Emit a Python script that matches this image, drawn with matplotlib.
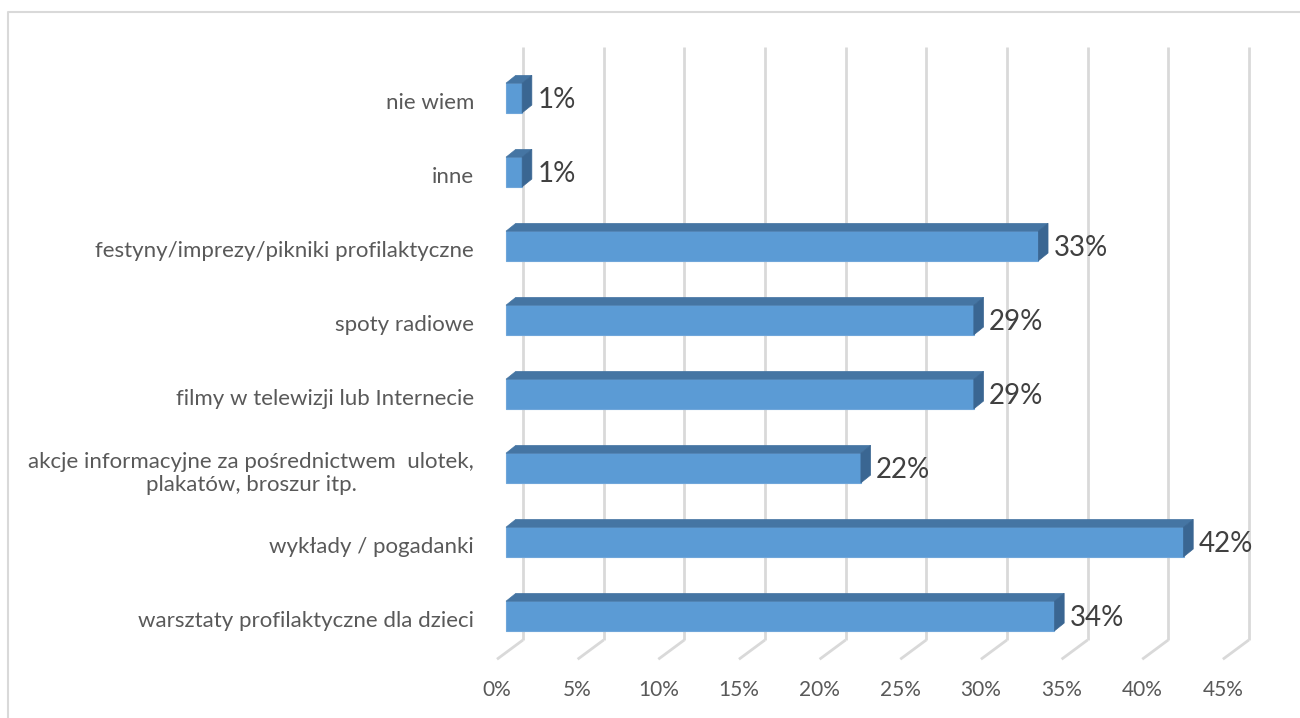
import numpy as np
import matplotlib
matplotlib.use("Agg")
import matplotlib.pyplot as plt
from matplotlib.patches import Polygon, Rectangle
from matplotlib.lines import Line2D

# data, bottom to top
categories = [
    "warsztaty profilaktyczne dla dzieci",
    "wykłady / pogadanki",
    "akcje informacyjne za pośrednictwem  ulotek,\nplakatów, broszur itp.",
    "filmy w telewizji lub Internecie",
    "spoty radiowe",
    "festyny/imprezy/pikniki profilaktyczne",
    "inne",
    "nie wiem",
]
values = [34, 42, 22, 29, 29, 33, 1, 1]
ticks = [0, 5, 10, 15, 20, 25, 30, 35, 40, 45]

plt.rcParams['font.family'] = ['Lato', 'DejaVu Sans']

FRONT = '#5b9bd5'
TOP = '#4575a3'
SIDE = '#3a6692'
GRID = '#d9d9d9'

fig = plt.figure(figsize=(13, 7.18), dpi=100)
ax = fig.add_axes([0, 0, 1, 1])
ax.set_xlim(-31.37, 49.22)
ax.set_ylim(-1.378, 8.324)
ax.axis('off')

# 3d offsets (in data units)
bar_h = 0.40
bdx, bdy = 0.6, 0.105         # depth of a bar
back_dx = 1.05                # back wall gridlines
floor_dx, floor_dy = -0.56, -0.26
grid_top, grid_bot = 7.69, -0.324

for t in ticks:
    xb = t + back_dx
    ax.plot([xb, xb], [grid_bot, grid_top], color=GRID, lw=2, zorder=1,
            solid_capstyle='butt')
    ax.plot([xb, t + floor_dx], [grid_bot, grid_bot + floor_dy], color=GRID,
            lw=2, zorder=1, solid_capstyle='butt')
    ax.text(t + floor_dx, -1.0, f"{t}%", ha='center', va='center',
            fontsize=15, color='#595959')

for i, (cat, v) in enumerate(zip(categories, values)):
    y0, y1 = i - bar_h / 2, i + bar_h / 2
    ax.add_patch(Rectangle((0, y0), v, bar_h, facecolor=FRONT,
                           edgecolor='#6fa6da', lw=0.8, zorder=3))
    ax.add_patch(Polygon([(0, y1), (bdx, y1 + bdy), (v + bdx, y1 + bdy), (v, y1)],
                         closed=True, facecolor=TOP, edgecolor=TOP, lw=0.5, zorder=3))
    ax.add_patch(Polygon([(v, y0), (v, y1), (v + bdx, y1 + bdy), (v + bdx, y0 + bdy)],
                         closed=True, facecolor=SIDE, edgecolor=SIDE, lw=0.5, zorder=3))
    ax.text(v + 0.95, i - 0.03, f"{v}%", ha='left', va='center',
            fontsize=20, color='#404040', zorder=4)
    ax.text(-1.98, i - 0.07, cat, ha='right', va='center', multialignment='center',
            fontsize=16, color='#595959', linespacing=1.2)

# chart border
fig.add_artist(Line2D([7.5 / 1300, 7.5 / 1300, 1.0], [0.0, 1 - 11.5 / 718, 1 - 11.5 / 718],
                      transform=fig.transFigure, color=GRID, lw=1.5))

fig.savefig('out.png', dpi=100)
